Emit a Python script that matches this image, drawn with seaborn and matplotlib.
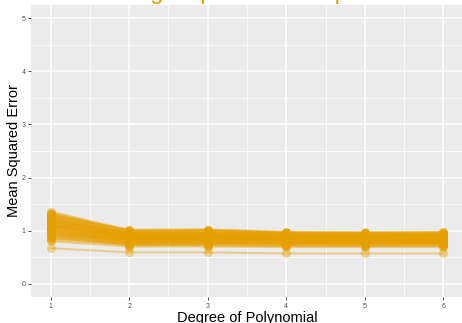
import numpy as np
import pandas as pd
import matplotlib
matplotlib.use("Agg")
import matplotlib.pyplot as plt
import seaborn as sns

# polynomial degree on the x axis
degrees = [1, 2, 3, 4, 5, 6]

# test MSE for each random split (one row per split)
mse_by_split = [
    [1.36, 1.01, 1.02, 0.97, 0.96, 0.97],
    [1.34, 0.99, 1.00, 0.96, 0.95, 0.95],
    [1.32, 0.98, 0.99, 0.95, 0.95, 0.94],
    [1.31, 1.00, 1.01, 0.96, 0.96, 0.96],
    [1.30, 0.96, 0.97, 0.94, 0.93, 0.93],
    [1.29, 0.97, 0.98, 0.94, 0.94, 0.94],
    [1.28, 1.02, 1.02, 0.98, 0.97, 0.98],
    [1.27, 0.94, 0.95, 0.92, 0.91, 0.91],
    [1.26, 0.93, 0.94, 0.90, 0.90, 0.90],
    [1.25, 0.96, 0.96, 0.93, 0.92, 0.93],
    [1.24, 0.95, 0.95, 0.92, 0.91, 0.92],
    [1.23, 0.91, 0.92, 0.89, 0.89, 0.89],
    [1.22, 0.90, 0.91, 0.88, 0.88, 0.87],
    [1.21, 0.94, 0.94, 0.91, 0.90, 0.91],
    [1.20, 0.92, 0.92, 0.90, 0.89, 0.89],
    [1.19, 0.89, 0.90, 0.87, 0.87, 0.87],
    [1.18, 0.88, 0.89, 0.86, 0.86, 0.86],
    [1.18, 0.97, 0.98, 0.93, 0.92, 0.93],
    [1.17, 0.91, 0.91, 0.88, 0.88, 0.88],
    [1.16, 0.86, 0.87, 0.85, 0.84, 0.85],
    [1.15, 0.93, 0.93, 0.90, 0.90, 0.90],
    [1.14, 0.89, 0.90, 0.87, 0.86, 0.87],
    [1.13, 0.87, 0.88, 0.85, 0.85, 0.85],
    [1.12, 0.84, 0.85, 0.83, 0.82, 0.83],
    [1.11, 0.90, 0.90, 0.87, 0.87, 0.87],
    [1.10, 0.87, 0.88, 0.85, 0.85, 0.84],
    [1.10, 0.91, 0.92, 0.89, 0.88, 0.88],
    [1.09, 0.85, 0.86, 0.84, 0.83, 0.84],
    [1.08, 0.82, 0.83, 0.81, 0.81, 0.81],
    [1.07, 0.88, 0.88, 0.86, 0.85, 0.86],
    [1.06, 0.85, 0.85, 0.83, 0.83, 0.83],
    [1.05, 0.88, 0.88, 0.86, 0.86, 0.86],
    [1.04, 0.80, 0.81, 0.79, 0.79, 0.79],
    [1.03, 0.84, 0.84, 0.82, 0.82, 0.82],
    [1.02, 0.83, 0.84, 0.82, 0.81, 0.82],
    [1.01, 0.86, 0.86, 0.84, 0.84, 0.84],
    [1.00, 0.78, 0.79, 0.77, 0.77, 0.77],
    [0.99, 0.82, 0.82, 0.80, 0.80, 0.80],
    [0.98, 0.81, 0.81, 0.80, 0.79, 0.79],
    [0.97, 0.84, 0.84, 0.82, 0.82, 0.82],
    [0.96, 0.76, 0.77, 0.75, 0.75, 0.75],
    [0.95, 0.80, 0.80, 0.78, 0.78, 0.78],
    [0.94, 0.79, 0.80, 0.78, 0.78, 0.78],
    [0.93, 0.82, 0.82, 0.80, 0.80, 0.80],
    [0.92, 0.74, 0.75, 0.73, 0.73, 0.73],
    [0.91, 0.78, 0.78, 0.77, 0.76, 0.77],
    [0.90, 0.77, 0.77, 0.76, 0.76, 0.76],
    [0.88, 0.72, 0.73, 0.72, 0.71, 0.72],
    [0.87, 0.76, 0.76, 0.75, 0.75, 0.75],
    [0.85, 0.75, 0.75, 0.74, 0.74, 0.74],
    [0.83, 0.73, 0.72, 0.71, 0.71, 0.71],
    [0.80, 0.70, 0.70, 0.69, 0.69, 0.69],
    [0.67, 0.59, 0.59, 0.57, 0.57, 0.57],
]

y_ticks = [0, 1, 2, 3, 4, 5]
title = "Single split across repeats"
x_label = "Degree of Polynomial"
y_label = "Mean Squared Error"
LINE_COLOR = "#E69F00"

rows = []
for split_id, values in enumerate(mse_by_split):
    for deg, mse in zip(degrees, values):
        rows.append({"split": split_id, "degree": deg, "mse": mse})
df = pd.DataFrame(rows)

sns.set_theme(style="darkgrid", rc={
    "axes.facecolor": "#EBEBEB",
    "grid.color": "white",
    "axes.edgecolor": "#EBEBEB",
})
plt.rcParams["font.family"] = ["Liberation Sans", "DejaVu Sans"]

W, H, DPI = 462, 323, 100
fig = plt.figure(figsize=(W / DPI, H / DPI), dpi=DPI)
# panel placed in pixel units (right side runs a little past the edge)
left, right, top, bottom = 31, 463, 5, 297
ax = fig.add_axes([left / W, 1 - bottom / H, (right - left) / W, (bottom - top) / H])

sns.lineplot(data=df, x="degree", y="mse", units="split", estimator=None,
             color=LINE_COLOR, alpha=0.4, linewidth=1.5,
             marker="o", markersize=6.5, markeredgewidth=0, ax=ax)

ax.set_xlim(0.75, 6.25)
ax.set_ylim(-0.25, 5.25)
ax.set_xticks(degrees)
ax.set_yticks(y_ticks)
ax.set_xticks([1.5, 2.5, 3.5, 4.5, 5.5], minor=True)
ax.set_yticks([0.5, 1.5, 2.5, 3.5, 4.5], minor=True)
ax.grid(which="major", color="white", linewidth=1.1)
ax.grid(which="minor", color="white", linewidth=0.55)
ax.tick_params(which="major", length=2.5, width=0.6, color="#333333",
               labelsize=5, labelcolor="#4D4D4D", pad=1.5,
               bottom=True, left=True)
ax.tick_params(which="minor", length=0)
for s in ax.spines.values():
    s.set_visible(False)

ax.set_xlabel(x_label, fontsize=10.5, color="black", labelpad=1)
ax.set_ylabel(y_label, fontsize=10.5, color="black", labelpad=0)

# title sits above the visible canvas; only descenders show
fig.text(254 / W, 1 + 1.5 / H, title, ha="center", va="baseline",
         fontsize=17, color=LINE_COLOR)

fig.savefig("out.png", dpi=DPI)
